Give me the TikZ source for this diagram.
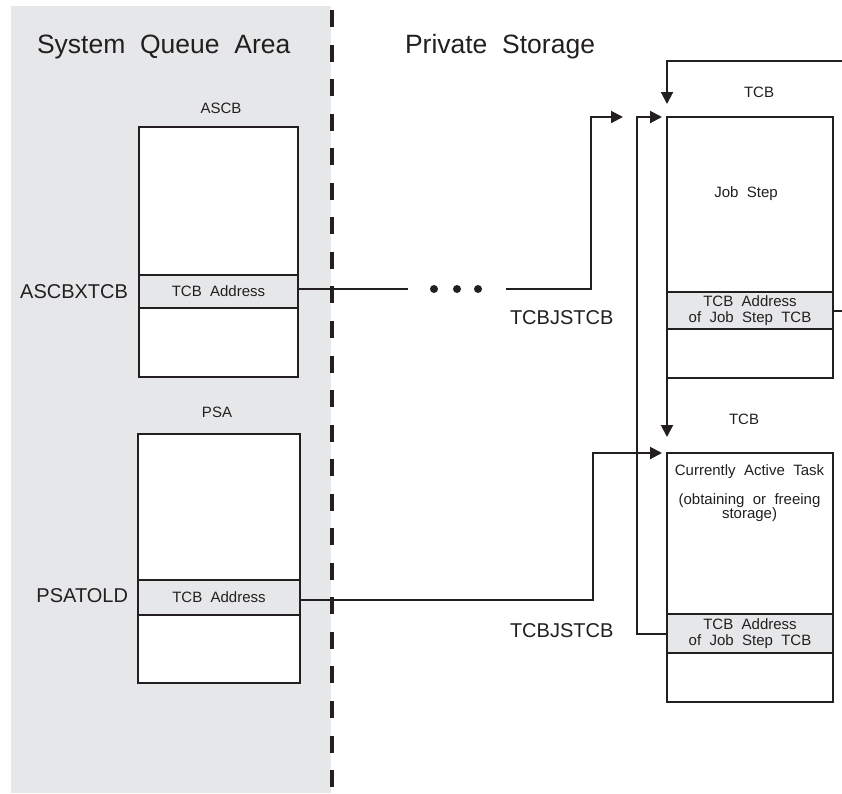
\documentclass[tikz,border=0pt]{standalone}
\usepackage{fontspec}
\setmainfont[WordSpace=2]{Liberation Sans}
\usetikzlibrary{arrows.meta}
\definecolor{ink}{HTML}{231F20}
\definecolor{sqa}{HTML}{E6E7E8}
\begin{document}
\begin{tikzpicture}[x={(1pt,0pt)}, y={(0pt,-1pt)},
  every node/.style={text=ink, inner sep=0pt, outer sep=0pt},
  small/.style={font=\fontsize{15}{16}\selectfont},
  big/.style={font=\fontsize{20}{24}\selectfont},
  title/.style={font=\fontsize{26.5}{30}\selectfont},
  boxst/.style={draw=ink, line width=2.8pt, fill=white, anchor=north west},
  rowst/.style={draw=ink, line width=2.8pt, fill=sqa, anchor=north west, align=center, small},
  conn/.style={draw=ink, line width=2pt},
  arr/.style={conn, -{Triangle[length=12pt,width=12pt]}},
  dot/.style={circle, fill=ink, minimum size=8pt}
]
\useasboundingbox (0,0) rectangle (842,793);
\clip (0,0) rectangle (842,793);
% system queue area background and boundary
\fill[sqa] (11,6) rectangle (331,793);
\draw[ink, line width=3.5pt, dash pattern=on 17pt off 17.55pt] (332,10) -- (332,787);

% titles
\node[title, anchor=base west] (sqatitle) at (37,53) {System Queue Area};
\node[title, anchor=base west] (pstitle) at (405,53) {Private Storage};

% ASCB
\node[small, anchor=base] (ascblbl) at (221,113) {ASCB};
\node[boxst, minimum width=159pt, minimum height=250pt] (ascb) at (139,127) {};
\node[rowst, minimum width=159pt, minimum height=33pt] (ascbrow) at (139,275) {TCB Address};
\node[big, anchor=base east] (ascbx) at (128,298) {ASCBXTCB};

% PSA
\node[small, anchor=base] (psalbl) at (217,417) {PSA};
\node[boxst, minimum width=162pt, minimum height=249pt] (psa) at (138,434) {};
\node[rowst, minimum width=162pt, minimum height=35pt] (psarow) at (138,580) {TCB Address};
\node[big, anchor=base east] (psatold) at (128,602) {PSATOLD};

% upper TCB (job step)
\node[small, anchor=base] (tcbulbl) at (759,97) {TCB};
\node[boxst, minimum width=166pt, minimum height=261pt] (tcbu) at (667,117) {};
\node[small, anchor=base] (jobstep) at (746,197) {Job Step};
\node[rowst, minimum width=166pt, minimum height=37pt] (turow) at (667,292) {TCB Address\\of Job Step TCB};
\node[big, anchor=base west] (jst1) at (510,324) {TCBJSTCB};

% lower TCB (currently active)
\node[small, anchor=base] (tcbllbl) at (744,424) {TCB};
\node[boxst, minimum width=166pt, minimum height=249pt] (tcbl) at (667,453) {};
\node[small, anchor=base] (cat1) at (749.5,475) {Currently Active Task};
\node[small, anchor=base] (cat2) at (749.5,504) {(obtaining or freeing};
\node[small, anchor=base] (cat3) at (749.5,518) {storage)};
\node[rowst, minimum width=166pt, minimum height=39pt] (tlrow) at (667,614) {TCB Address\\of Job Step TCB};
\node[big, anchor=base west] (jst2) at (510,637) {TCBJSTCB};

% connectors
\coordinate (gap1) at (408,289);
\coordinate (gap2) at (506,289);
\coordinate (tip1) at (623,117);
\node[dot] (d1) at (434,289) {};
\node[dot] (d2) at (457,289) {};
\node[dot] (d3) at (478,289) {};
\draw[conn] ([yshift=2.5pt]ascbrow.east) -- (gap1);
\draw[arr] (gap2) -| (591,117) -- (tip1);
\draw[arr] ([yshift=-2.5pt]psarow.east) -| (593,453) -- ([xshift=-5pt]tcbl.north west);
\draw[arr] (tlrow.west) -| (637,117) -- ([xshift=-5pt]tcbu.north west);
\draw[arr] (tcbu.south west) -- ([yshift=16pt]tcbl.north west);
\draw[arr] (turow.east) -- ++(20,0) |- (667,61) -- ([yshift=13pt]tcbu.north west);
\end{tikzpicture}
\end{document}
